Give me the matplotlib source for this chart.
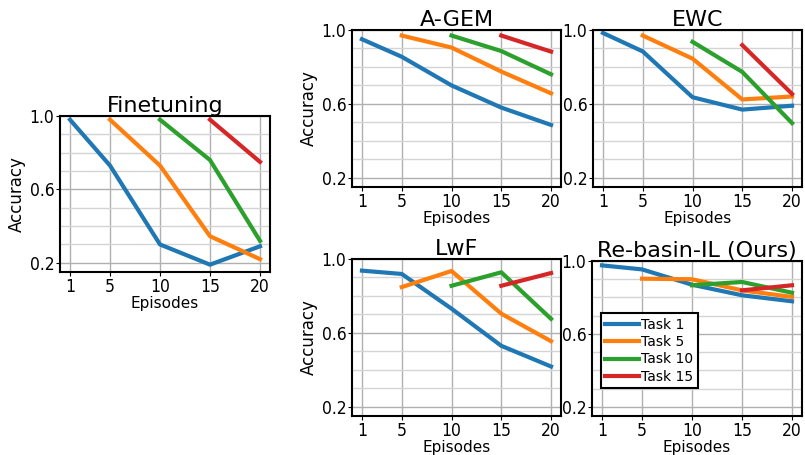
import matplotlib
matplotlib.use("Agg")
import matplotlib.pyplot as plt
from matplotlib.ticker import MultipleLocator, FixedLocator

episodes = [1, 5, 10, 15, 20]
task_labels = ["Task 1", "Task 5", "Task 10", "Task 15"]
task_start = [0, 1, 2, 3]  # index into episodes where each task begins

finetuning = [
    [0.98, 0.73, 0.30, 0.19, 0.29],
    [0.98, 0.73, 0.345, 0.22],
    [0.98, 0.76, 0.32],
    [0.98, 0.75],
]
agem = [
    [0.95, 0.855, 0.70, 0.58, 0.486],
    [0.97, 0.905, 0.775, 0.657],
    [0.97, 0.886, 0.76],
    [0.97, 0.883],
]
ewc = [
    [0.984, 0.884, 0.636, 0.569, 0.59],
    [0.97, 0.845, 0.624, 0.64],
    [0.936, 0.773, 0.496],
    [0.918, 0.654],
]
lwf = [
    [0.937, 0.919, 0.731, 0.53, 0.418],
    [0.848, 0.935, 0.704, 0.555],
    [0.855, 0.928, 0.676],
    [0.855, 0.924],
]
rebasin = [
    [0.976, 0.954, 0.87, 0.812, 0.779],
    [0.903, 0.90, 0.839, 0.803],
    [0.867, 0.885, 0.826],
    [0.839, 0.867],
]

colors = ["#1f77b4", "#ff7f0e", "#2ca02c", "#d62728"]

fig = plt.figure(figsize=(8.05, 4.55), dpi=100)

W = 209 / 805
H = 157 / 455
panels = [
    ("Finetuning", finetuning, [60 / 805, (455 - 272) / 455, 210 / 805, 156 / 455]),
    ("A-GEM", agem, [352 / 805, (455 - 187) / 455, W, H]),
    ("EWC", ewc, [593 / 805, (455 - 187) / 455, W, H]),
    ("LwF", lwf, [352 / 805, (455 - 416) / 455, W, H]),
    ("Re-basin-IL (Ours)", rebasin, [592 / 805, (455 - 416) / 455, 210 / 805, 155 / 455]),
]

tick_font = dict(family="DejaVu Sans", stretch="condensed", size=12.5)

for title, data, rect in panels:
    ax = fig.add_axes(rect)
    for i, (vals, start) in enumerate(zip(data, task_start)):
        ax.plot(episodes[start:start + len(vals)], vals, color=colors[i], lw=3,
                label=task_labels[i], solid_capstyle="projecting")
    ax.set_xlim(0, 21)
    ax.set_ylim(0.15, 1.0)
    ax.xaxis.set_major_locator(FixedLocator(episodes))
    ax.set_xticklabels([str(e) for e in episodes], fontdict=tick_font)
    ax.yaxis.set_major_locator(FixedLocator([0.2, 0.6, 1.0]))
    ax.set_yticklabels(["0.2", "0.6", "1.0"], fontdict=tick_font)
    ax.yaxis.set_minor_locator(MultipleLocator(0.1))
    ax.tick_params(axis="y", which="minor", length=0)
    ax.tick_params(axis="both", which="major", pad=1, length=3)
    ax.grid(True, which="major", color="#b0b0b0", lw=1.0)
    ax.grid(True, which="minor", axis="y", color="#d4d4d4", lw=1.0)
    ax.set_axisbelow(True)
    for s in ax.spines.values():
        s.set_linewidth(1.5)
        s.set_color("black")
    ax.set_title(title, fontsize=16, pad=3)
    ax.set_xlabel("Episodes", fontsize=11, labelpad=0)
    if title != "EWC" and title != "Re-basin-IL (Ours)":
        ax.set_ylabel("Accuracy", fontsize=12, labelpad=3)
    if title == "Re-basin-IL (Ours)":
        leg = ax.legend(loc="lower left", bbox_to_anchor=(0.043, 0.18), fontsize=10,
                        fancybox=False, framealpha=1, edgecolor="black",
                        handlelength=2.4, handletextpad=0.2, borderpad=0.3,
                        labelspacing=0.25, borderaxespad=0)
        leg.get_frame().set_linewidth(1.5)

fig.savefig("out.png", dpi=100)
